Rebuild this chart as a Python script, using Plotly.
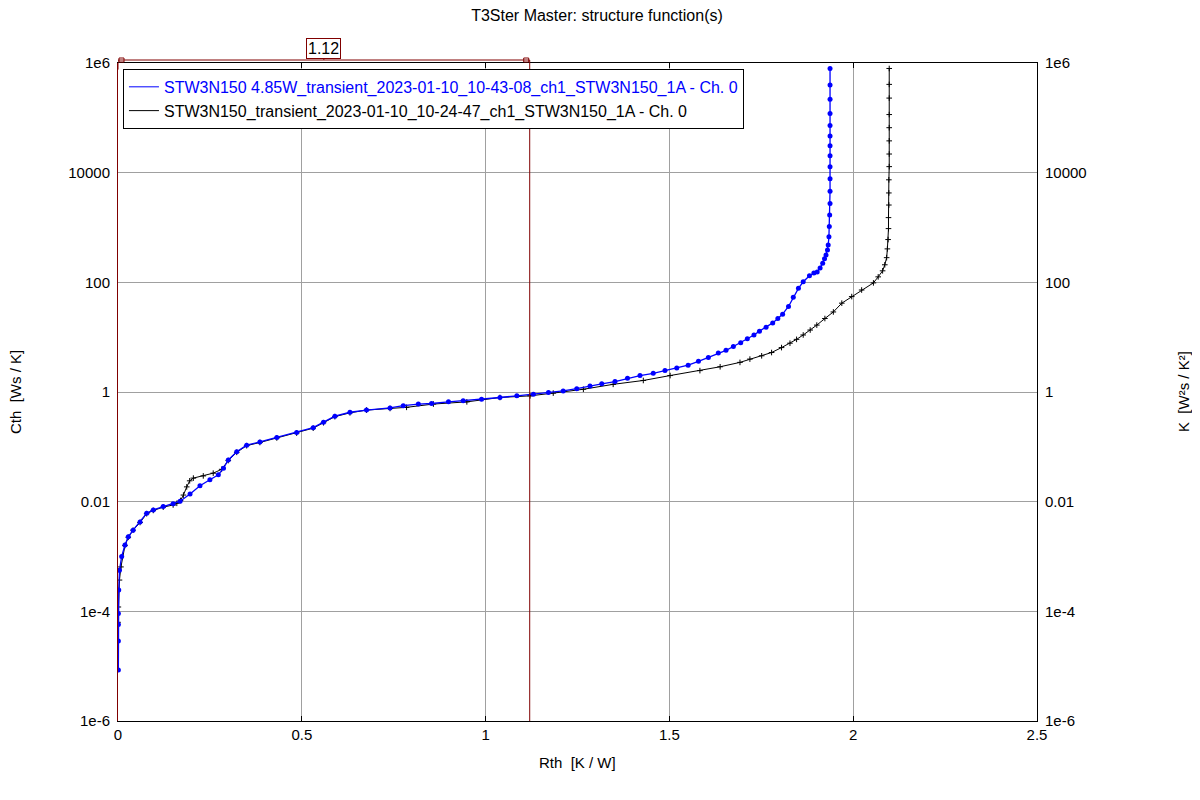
import plotly.graph_objects as go

FONT = "Liberation Sans, Arial, sans-serif"

# Blue series: STW3N150 4.85W transient
blue_rth = [0.001, 0.001, 0.001, 0.001, 0.002, 0.004, 0.010, 0.019, 0.028, 0.041,
            0.060, 0.078, 0.096, 0.123, 0.150, 0.169, 0.196, 0.223, 0.250, 0.273,
            0.287, 0.300, 0.323, 0.350, 0.386, 0.432, 0.486, 0.531, 0.559, 0.590,
            0.631, 0.676, 0.740, 0.776, 0.817, 0.853, 0.899, 0.939, 0.989, 1.039,
            1.085, 1.130, 1.171, 1.211, 1.248, 1.284, 1.316, 1.352, 1.386, 1.420,
            1.456, 1.488, 1.520, 1.551, 1.579, 1.606, 1.633, 1.654, 1.674, 1.694,
            1.712, 1.730, 1.745, 1.763, 1.781, 1.795, 1.808, 1.824, 1.837, 1.851,
            1.864, 1.881, 1.893, 1.902, 1.910, 1.917, 1.922, 1.926, 1.930, 1.932,
            1.934, 1.935, 1.936, 1.937, 1.937, 1.937, 1.937, 1.937, 1.937, 1.937,
            1.937, 1.937, 1.937, 1.937, 1.937]
blue_cth = [8.51e-6, 2.88e-5, 5.75e-5, 9.12e-5, 2.45e-4, 5.62e-4, 1.0e-3, 1.62e-3, 2.29e-3, 3.02e-3,
            4.27e-3, 6.17e-3, 7.08e-3, 8.13e-3, 9.12e-3, 1.02e-2, 1.38e-2, 1.95e-2, 2.51e-2, 3.09e-2,
            4.07e-2, 5.75e-2, 8.13e-2, 0.107, 0.123, 0.148, 0.182, 0.224, 0.282, 0.363,
            0.427, 0.468, 0.513, 0.562, 0.603, 0.617, 0.661, 0.692, 0.741, 0.794,
            0.851, 0.912, 0.977, 1.047, 1.148, 1.288, 1.413, 1.549, 1.778, 1.995,
            2.188, 2.455, 2.754, 3.090, 3.631, 4.266, 5.129, 5.754, 6.761, 7.943,
            9.333, 10.96, 12.88, 15.14, 18.20, 21.88, 26.30, 36.31, 53.70, 77.62,
            102.3, 131.8, 147.9, 155.0, 182.0, 224.0, 269.2, 316.2, 389.0, 478.6,
            676.1, 1047, 1698, 2754, 4571, 7762, 12880, 20420, 30900, 46770,
            72440, 120200, 218800, 398100, 794300]

# Black series: STW3N150 transient
black_rth = [0.000, 0.001, 0.004, 0.008, 0.019, 0.028, 0.041, 0.060, 0.078, 0.096,
             0.123, 0.150, 0.160, 0.170, 0.178, 0.187, 0.195, 0.205, 0.232, 0.259,
             0.282, 0.300, 0.323, 0.350, 0.386, 0.432, 0.486, 0.531, 0.559, 0.590,
             0.631, 0.676, 0.740, 0.785, 0.858, 0.949, 1.039, 1.121, 1.184, 1.266,
             1.347, 1.429, 1.502, 1.583, 1.638, 1.692, 1.719, 1.751, 1.778, 1.805,
             1.828, 1.846, 1.864, 1.883, 1.901, 1.923, 1.946, 1.969, 1.996, 2.023,
             2.055, 2.068, 2.080, 2.086, 2.091, 2.093, 2.095, 2.096, 2.096, 2.097,
             2.097, 2.097, 2.098, 2.098, 2.098, 2.098, 2.098, 2.098, 2.098, 2.098]
black_cth = [6.31e-5, 1.20e-4, 3.72e-4, 6.46e-4, 1.58e-3, 2.24e-3, 3.02e-3, 4.17e-3, 6.03e-3, 6.92e-3,
             7.94e-3, 8.71e-3, 9.33e-3, 1.05e-2, 1.32e-2, 1.86e-2, 2.40e-2, 2.69e-2, 2.95e-2, 3.31e-2,
             3.89e-2, 5.62e-2, 7.94e-2, 0.105, 0.120, 0.145, 0.178, 0.219, 0.275, 0.355,
             0.417, 0.468, 0.501, 0.525, 0.603, 0.661, 0.794, 0.851, 0.955, 1.122,
             1.380, 1.622, 1.995, 2.455, 2.884, 3.467, 3.981, 4.571, 5.248, 6.457,
             7.762, 9.120, 10.96, 13.49, 16.60, 21.88, 28.84, 41.69, 54.95, 72.44,
             97.72, 125.9, 162.2, 208.9, 281.8, 407.4, 602.6, 955, 1514, 2570,
             4266, 7413, 12880, 21880, 38020, 66070, 114800, 229100, 407400, 794300]

blue_name = "STW3N150 4.85W_transient_2023-01-10_10-43-08_ch1_STW3N150_1A - Ch. 0"
black_name = "STW3N150_transient_2023-01-10_10-24-47_ch1_STW3N150_1A - Ch. 0"

y_tickvals = [1e-6, 1e-4, 1e-2, 1, 100, 1e4, 1e6]
y_ticktext = ["1e-6", "1e-4", "0.01", "1", "100", "10000", "1e6"]
x_tickvals = [0, 0.5, 1, 1.5, 2, 2.5]
x_ticktext = ["0", "0.5", "1", "1.5", "2", "2.5"]
cursor_value = 1.12

MAROON = "#800000"
GRID = "#a0a0a0"

fig = go.Figure()
fig.add_trace(go.Scatter(x=black_rth, y=black_cth, mode="lines+markers",
                         line=dict(color="black", width=1),
                         marker=dict(symbol="cross-thin", size=4, line=dict(width=1, color="black")),
                         showlegend=False))
fig.add_trace(go.Scatter(x=blue_rth, y=blue_cth, mode="lines+markers",
                         line=dict(color="#0000ff", width=1.3),
                         marker=dict(symbol="circle", size=5, color="#0000ff"),
                         showlegend=False))
# legend entries (line only)
fig.add_trace(go.Scatter(x=[None], y=[None], mode="lines", line=dict(color="#0000ff", width=1),
                         name="<span style='color:#0000ff'>" + blue_name + "</span>"))
fig.add_trace(go.Scatter(x=[None], y=[None], mode="lines", line=dict(color="black", width=1),
                         name=black_name))
# right axis carrier
fig.add_trace(go.Scatter(x=[None], y=[None], yaxis="y2", showlegend=False))

fig.update_layout(
    width=1200, height=800,
    margin=dict(l=110, r=171, t=55, b=87),
    paper_bgcolor="white", plot_bgcolor="white",
    font=dict(family=FONT, size=15, color="black"),
    title=dict(text="T3Ster Master: structure function(s)", x=589 / 1200, xanchor="center",
               y=1 - 7 / 800, yanchor="middle", font=dict(size=16, color="black")),
    xaxis=dict(range=[0, 2.5], tickvals=x_tickvals, ticktext=x_ticktext,
               showgrid=True, gridcolor=GRID, gridwidth=1, zeroline=False,
               showline=True, linecolor="black", linewidth=1, mirror="ticks",
               ticks="inside", ticklen=5, tickcolor="black",
               tickfont=dict(size=15)),
    yaxis=dict(type="log", range=[-6, 6], tickvals=y_tickvals, ticktext=y_ticktext,
               showgrid=True, gridcolor=GRID, gridwidth=1, zeroline=False,
               showline=True, linecolor=MAROON, linewidth=1, ticks="",
               tickfont=dict(size=15), ticklabelstandoff=4),
    yaxis2=dict(type="log", range=[-6, 6], tickvals=y_tickvals, ticktext=y_ticktext,
                overlaying="y", side="right", anchor="x", showgrid=False, zeroline=False,
                showline=True, linecolor="black", linewidth=1, ticks="",
                tickfont=dict(size=15), ticklabelstandoff=4),
    legend=dict(x=0.0054, y=0.991, xanchor="left", yanchor="top",
                bgcolor="white", bordercolor="black", borderwidth=1,
                font=dict(size=16, color="black"), tracegroupgap=0,
                itemwidth=30),
)

top = 1 + 3 / 658
shapes = [
    dict(type="line", xref="x", yref="paper", x0=cursor_value, x1=cursor_value, y0=0, y1=top,
         line=dict(color=MAROON, width=1)),
    dict(type="line", xref="x", yref="paper", x0=0, x1=0, y0=0.99, y1=top,
         line=dict(color=MAROON, width=1)),
    dict(type="line", xref="x", yref="paper", x0=0, x1=cursor_value, y0=top, y1=top,
         line=dict(color=MAROON, width=1)),
    dict(type="rect", xref="x", yref="paper", xsizemode="pixel", ysizemode="pixel",
         xanchor=0, yanchor=top, x0=1, x1=6, y0=-2, y1=2, line=dict(color=MAROON, width=1)),
    dict(type="rect", xref="x", yref="paper", xsizemode="pixel", ysizemode="pixel",
         xanchor=cursor_value, yanchor=top, x0=-6, x1=-1, y0=-2, y1=2, line=dict(color=MAROON, width=1)),
    dict(type="line", xref="x", yref="paper", ysizemode="pixel", yanchor=top,
         x0=cursor_value / 2, x1=cursor_value / 2, y0=0, y1=3, line=dict(color=MAROON, width=1)),
]
fig.update_layout(shapes=shapes)

fig.add_annotation(x=cursor_value / 2, xref="x", y=top, yref="paper", yanchor="bottom", yshift=1,
                   text=f"{cursor_value:.2f}", showarrow=False, font=dict(size=16, color="black"),
                   bgcolor="white", bordercolor=MAROON, borderwidth=1, borderpad=1)
fig.add_annotation(x=(577 - 118) / 919, xref="paper", y=-(762 - 721) / 658, yref="paper",
                   text="Rth  [K / W]", showarrow=False, font=dict(size=15),
                   xanchor="center", yanchor="middle")
fig.add_annotation(x=-(118 - 15) / 919, xref="paper", y=0.5, yref="paper",
                   text="Cth  [Ws / K]", showarrow=False, font=dict(size=15), textangle=-90,
                   xanchor="center", yanchor="middle")
fig.add_annotation(x=1 + (1183 - 1037) / 919, xref="paper", y=0.5, yref="paper",
                   text="K  [W²s / K²]", showarrow=False, font=dict(size=15), textangle=-90,
                   xanchor="center", yanchor="middle")

fig.write_html("out.html")
